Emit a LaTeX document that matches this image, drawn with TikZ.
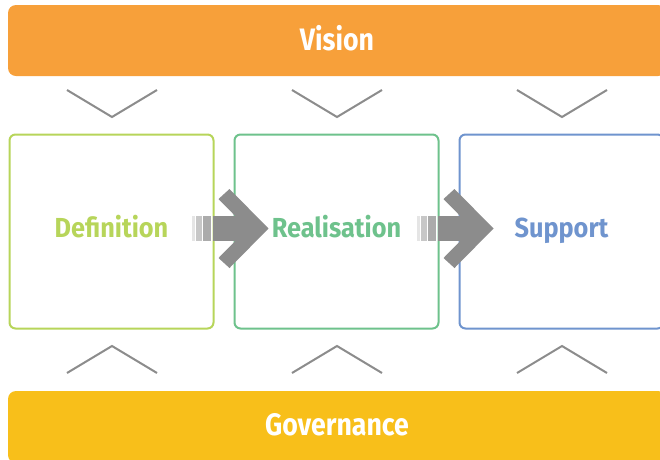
\documentclass[tikz,border=0pt]{standalone}
\usepackage{fontspec}
\setmainfont{Fira Sans}[FakeStretch=0.86]
\newfontfamily\stagefont{Fira Sans}[FakeStretch=0.92]
\usepackage{tikz}
\usetikzlibrary{calc}
\definecolor{vis_orange}{RGB}{247, 160, 58}
\definecolor{gov_yellow}{RGB}{248, 191, 26}
\definecolor{def_green}{RGB}{183, 213, 90}
\definecolor{rea_green}{RGB}{110, 194, 140}
\definecolor{sup_blue}{RGB}{111, 148, 206}
\definecolor{arr_grey}{RGB}{140, 140, 140}
\tikzstyle{bar}=[rectangle,rounded corners=8pt,draw=none,text=white,
  font=\bfseries\fontsize{31}{31}\selectfont,minimum width=658pt,inner sep=0pt]
\tikzstyle{stage}=[rectangle,rounded corners=6pt,fill=white,line width=2pt,
  font=\stagefont\bfseries\fontsize{27.5}{27.5}\selectfont,text height=19pt,text depth=8pt,
  minimum width=204pt,minimum height=194pt]
\tikzstyle{chev}=[draw=arr_grey,line width=2pt]
\tikzstyle{none}=[]

\begin{document}
\begin{tikzpicture}[x=1pt,y=-1pt]
            \useasboundingbox (0, 0) rectangle (660, 459);
            \clip (0, 0) rectangle (660, 459);
            \node [style=bar,fill=vis_orange,minimum height=71pt,text height=22pt,text depth=3pt] (0) at (337, 40.5) {Vision};
            \node [style=bar,fill=gov_yellow,minimum height=72pt,text height=22pt,text depth=6pt] (1) at (337, 427) {Governance};
            \node [style=stage,draw=def_green,text=def_green] (2) at (111.5, 231.5) {Definition};
            \node [style=stage,draw=rea_green,text=rea_green] (3) at (336.5, 231.5) {Realisation};
            \node [style=stage,draw=sup_blue,text=sup_blue] (4) at (561.5, 231.5) {Support};
            \node [style=none] (5) at (67, 90) {};
            \node [style=none] (6) at (112, 117) {};
            \node [style=none] (7) at (157, 90) {};
            \node [style=none] (8) at (292, 90) {};
            \node [style=none] (9) at (337, 117) {};
            \node [style=none] (10) at (382, 90) {};
            \node [style=none] (11) at (517, 90) {};
            \node [style=none] (12) at (562, 117) {};
            \node [style=none] (13) at (607, 90) {};
            \node [style=none] (14) at (67, 373) {};
            \node [style=none] (15) at (112, 346) {};
            \node [style=none] (16) at (157, 373) {};
            \node [style=none] (17) at (292, 373) {};
            \node [style=none] (18) at (337, 346) {};
            \node [style=none] (19) at (382, 373) {};
            \node [style=none] (20) at (517, 373) {};
            \node [style=none] (21) at (562, 346) {};
            \node [style=none] (22) at (607, 373) {};
            \draw [style=chev] (5.center) -- (6.center) -- (7.center);
            \draw [style=chev] (8.center) -- (9.center) -- (10.center);
            \draw [style=chev] (11.center) -- (12.center) -- (13.center);
            \draw [style=chev] (14.center) -- (15.center) -- (16.center);
            \draw [style=chev] (17.center) -- (18.center) -- (19.center);
            \draw [style=chev] (20.center) -- (21.center) -- (22.center);
            \begin{scope}[shift={($(2.east)+(0,-3)$)}]
              \fill [black!10] (-23, -12.5) rectangle (-20, 12.5);
              \fill [black!22] (-19, -12.5) rectangle (-13, 12.5);
              \fill [black!33] (-12, -12.5) rectangle (-4, 12.5);
              \fill [arr_grey] (-2, -12.5) rectangle (36, 12.5);
              \fill [arr_grey] (4, -29.5) -- (15, -39.5) -- (54, 0) -- (15, 39.5)
                -- (4, 29.5) -- (33, 0) -- cycle;
            \end{scope}
            \begin{scope}[shift={($(3.east)+(0,-3)$)}]
              \fill [black!10] (-23, -12.5) rectangle (-20, 12.5);
              \fill [black!22] (-19, -12.5) rectangle (-13, 12.5);
              \fill [black!33] (-12, -12.5) rectangle (-4, 12.5);
              \fill [arr_grey] (-2, -12.5) rectangle (36, 12.5);
              \fill [arr_grey] (4, -29.5) -- (15, -39.5) -- (54, 0) -- (15, 39.5)
                -- (4, 29.5) -- (33, 0) -- cycle;
            \end{scope}
    \end{tikzpicture}
\end{document}
